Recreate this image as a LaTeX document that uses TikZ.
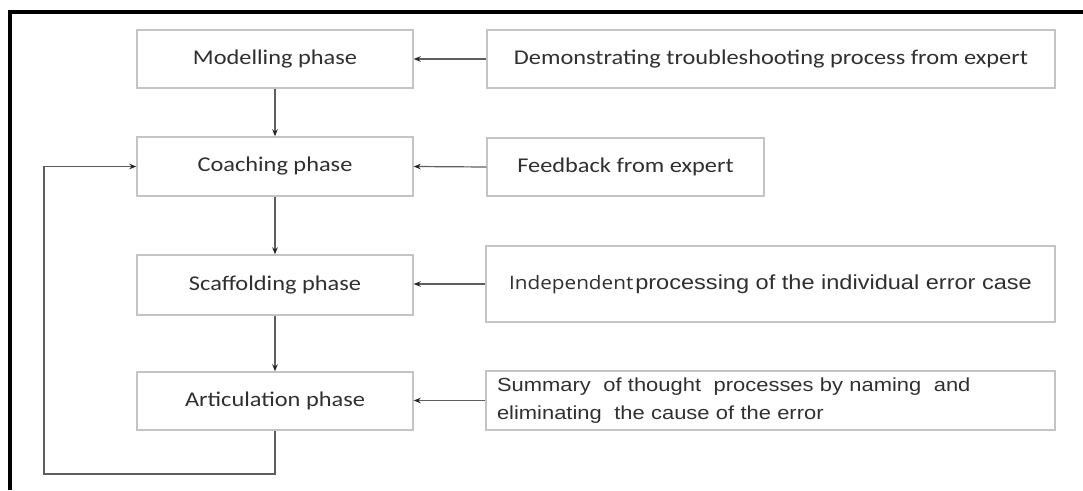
\documentclass[tikz,border=0pt]{standalone}
\usepackage{fontspec}
\usetikzlibrary{arrows.meta}
\newfontfamily\calib[FakeStretch=1.16]{Carlito}
\newfontfamily\arialf[FakeStretch=1.16]{Liberation Sans}
\newfontfamily\opensf[FakeStretch=1.12]{Open Sans}
\definecolor{boxline}{HTML}{C4C4C4}
\definecolor{conn}{HTML}{5E5E5E}
\definecolor{txt}{HTML}{303030}
\tikzset{
  phasebox/.style={draw=boxline, line width=1.4pt, fill=white, rectangle, minimum width=276pt, minimum height=58pt, inner sep=0pt, text=txt, font=\calib\fontsize{21}{25}\selectfont},
  infobox/.style={draw=boxline, line width=1.4pt, fill=white, rectangle, inner sep=0pt, text=txt},
  conn/.style={draw=conn, line width=1.2pt, -{Stealth[length=7pt,width=5.5pt,color=black!85]}},
}
\begin{document}
\begin{tikzpicture}[x=1pt,y=-1pt]
\useasboundingbox (0,0) rectangle (1083,490);
% partial outer frame
\draw[black, line width=4pt] (10.3,490) -- (10.3,11.7) -- (1083,11.7);
% phase boxes
\node[phasebox] (mod) at (275,59) {Modelling phase};
\node[phasebox, minimum height=59pt] (coach) at (275,166.5) {Coaching phase};
\node[phasebox, minimum height=60pt] (scaf) at (275,285) {Scaffolding phase};
\node[phasebox] (art) at (275,401) {Articulation phase};
% info boxes
\node[infobox, minimum width=568pt, minimum height=58pt, font=\calib\fontsize{21}{25}\selectfont] (demo) at (771,59) {Demonstrating troubleshooting process from expert};
\node[infobox, minimum width=277pt, minimum height=58pt, font=\calib\fontsize{21}{25}\selectfont] (feed) at (625.5,167) {Feedback from expert};
\node[infobox, minimum width=569pt, minimum height=76pt] (indep) at (770.5,284) {{\opensf\fontsize{18.5}{22}\selectfont Independent}\hspace{2pt}{\arialf\fontsize{20.3}{25}\selectfont processing of the individual error case}};
\node[infobox, minimum width=569pt, minimum height=59pt, text width=547pt, align=left, font=\arialf\fontsize{18.9}{28}\selectfont] (summ) at (770.5,400.5) {Summary~ of thought~ processes by naming~ and\\eliminating~ the cause of the error};
% connectors
\draw[conn] (demo.west) -- (mod.east);
\draw[conn] (feed.west) -- (coach.east);
\draw[conn] (indep.west) -- (indep.west -| scaf.east);
\draw[conn] (summ.west) -- (summ.west -| art.east);
\draw[conn] (mod.south) -- (coach.north);
\draw[conn] (coach.south) -- (scaf.north);
\draw[conn] (scaf.south) -- (art.north);
\coordinate (loop) at (44,474);
\draw[conn] (art.south) |- (loop) |- (coach.west);
\end{tikzpicture}
\end{document}
